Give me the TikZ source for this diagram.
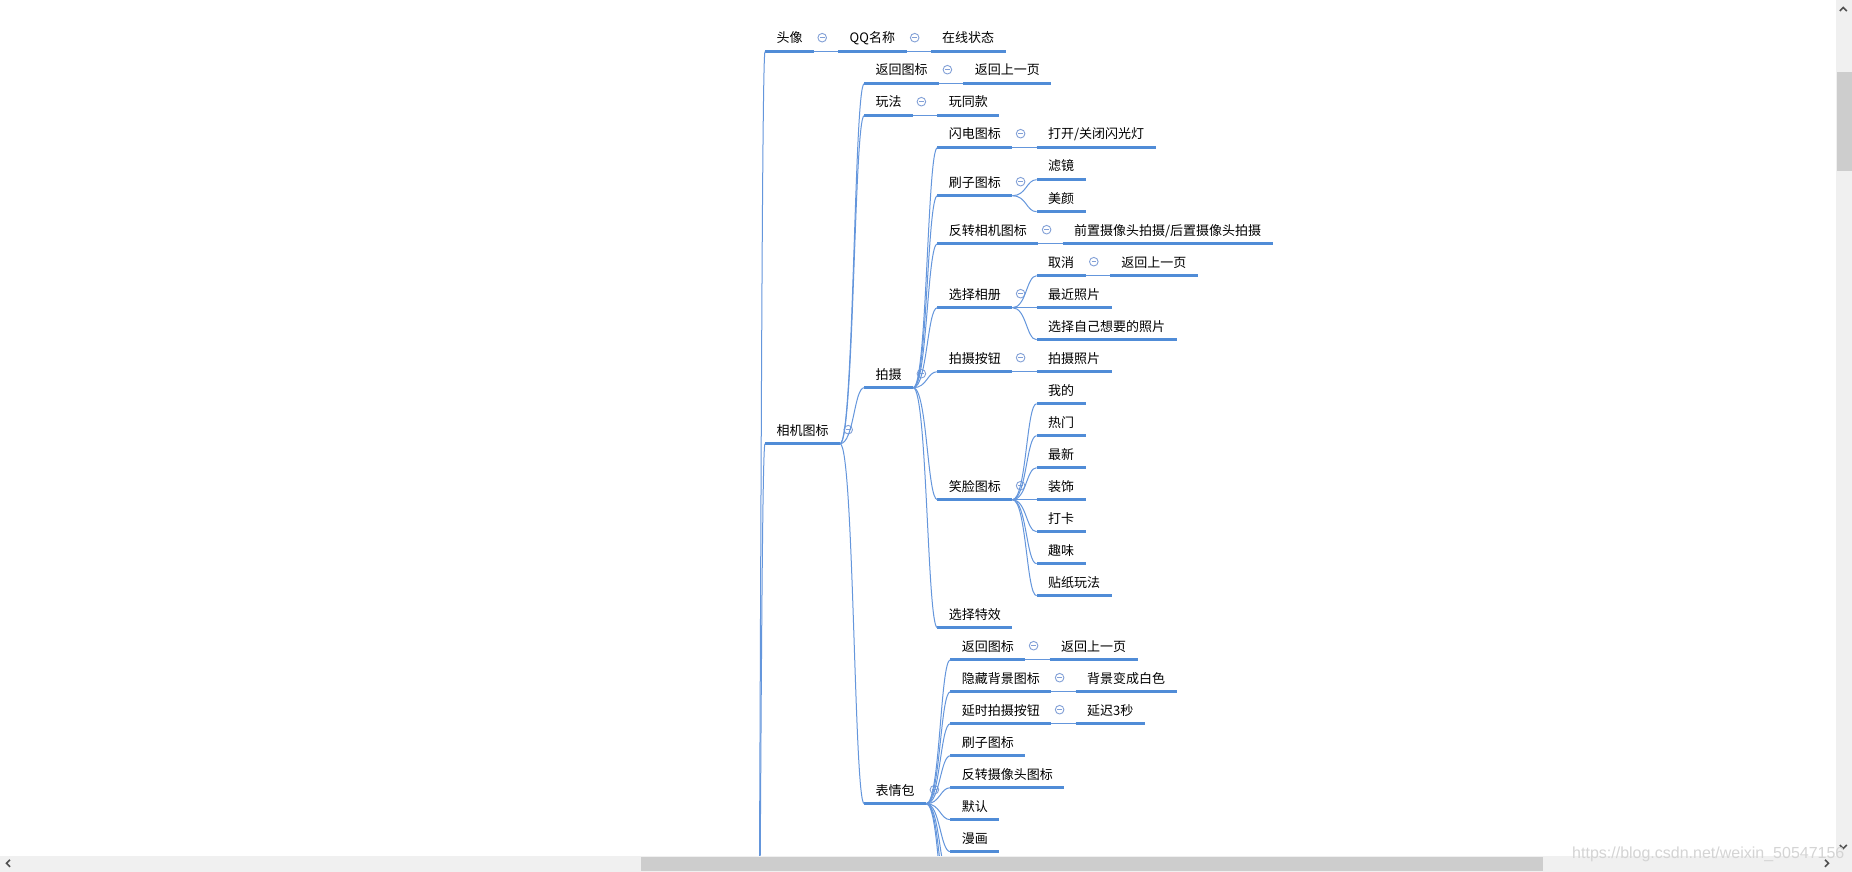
\documentclass[tikz,border=0pt]{standalone}
\usepackage{fontspec}
\newfontfamily\cjk{Noto Sans CJK SC}
\newfontfamily\wmfont{Liberation Sans}
\definecolor{ulc}{RGB}{80,140,215}
\definecolor{lnc}{RGB}{100,150,220}
\definecolor{btnc}{RGB}{130,160,215}
\definecolor{trackc}{RGB}{240,240,240}
\definecolor{thumbc}{RGB}{205,205,205}
\definecolor{arrc}{RGB}{80,80,80}
\definecolor{wmc}{RGB}{212,212,212}
\tikzset{
  ul/.style={draw=ulc, line width=2.8pt},
  conn/.style={draw=lnc, line width=1pt},
  mm/.style={anchor=south west, inner xsep=11.3pt, inner ysep=0pt,
    text height=10pt, text depth=8.5pt,
    font=\cjk\fontsize{13pt}{15pt}\selectfont, text=black,
    append after command={(\tikzlastnode.south west) edge[ul] (\tikzlastnode.south east)}},
  btn/.style={circle, draw=btnc, fill=white, line width=0.9pt, minimum size=8.6pt, inner sep=0pt,
    path picture={\draw[btnc, line width=0.9pt] ([xshift=-2.3pt]path picture bounding box.center) -- ([xshift=2.3pt]path picture bounding box.center);}},
  arrowglyph/.style={draw=arrc, line width=1.6pt},
}
\newcommand\mmbtn[1]{\node[btn] (#1-b) at ([xshift=8.2pt,yshift=14pt]#1.south east) {};}
\newcommand\mmlink[2]{\draw[conn] (#1.south east) .. controls ([xshift=14pt]#1.south east) and ([xshift=-10.2pt]#2.south west) .. (#2.south west);}
\newcommand\mmkid[4]{%
  \path ([xshift=24.2pt]#1.south east) coordinate (#2-x);
  \node[mm] (#2) at (#2-x |- 0,#3) {#4};
  \mmlink{#1}{#2}}
\newcommand\mmhid[3]{%
  \path ([xshift=24.2pt]#1.south east) coordinate (#2-x);
  \coordinate (#2) at (#2-x |- 0,#3);
  \draw[conn] (#1.south east) .. controls ([xshift=14pt]#1.south east) and ([xshift=-10.2pt]#2) .. (#2);}
\begin{document}
\begin{tikzpicture}[x=1pt,y=-1pt]
\useasboundingbox (0,0) rectangle (1852,872);
\fill[white] (0,0) rectangle (1852,872);
\begin{scope}
\clip (0,0) rectangle (1836,855.7);
\coordinate (rootp) at (756,1181);
\node[mm] (tx) at (765,51.7) {头像};
\node[mm] (xj) at (765,443.7) {相机图标};
\draw[conn] (rootp) .. controls ([xshift=4.5pt]rootp) and ([xshift=-4.5pt]tx.south west) .. (tx.south west);
\draw[conn] (rootp) .. controls ([xshift=4.5pt]rootp) and ([xshift=-4.5pt]xj.south west) .. (xj.south west);
\mmkid{tx}{qq}{51.7}{QQ名称}
\mmkid{qq}{zx}{51.7}{在线状态}
\mmbtn{tx} \mmbtn{qq} \mmbtn{xj}
\mmkid{xj}{fh}{83.7}{返回图标} \mmbtn{fh}
\mmkid{fh}{fhs}{83.7}{返回上一页}
\mmkid{xj}{wf}{115.7}{玩法} \mmbtn{wf}
\mmkid{wf}{wtk}{115.7}{玩同款}
\mmkid{xj}{ps}{387.7}{拍摄} \mmbtn{ps}
\mmkid{ps}{sd}{147.7}{闪电图标} \mmbtn{sd}
\mmkid{sd}{sdk}{147.7}{打开/关闭闪光灯}
\mmkid{ps}{sz}{195.7}{刷子图标} \mmbtn{sz}
\mmkid{sz}{lj}{179.7}{滤镜}
\mmkid{sz}{my}{211.7}{美颜}
\mmkid{ps}{fz}{243.7}{反转相机图标} \mmbtn{fz}
\mmkid{fz}{qz}{243.7}{前置摄像头拍摄/后置摄像头拍摄}
\mmkid{ps}{xc}{307.7}{选择相册} \mmbtn{xc}
\mmkid{xc}{qx}{275.7}{取消} \mmbtn{qx}
\mmkid{qx}{qxf}{275.7}{返回上一页}
\mmkid{xc}{zj}{307.7}{最近照片}
\mmkid{xc}{zz}{339.7}{选择自己想要的照片}
\mmkid{ps}{pa}{371.7}{拍摄按钮} \mmbtn{pa}
\mmkid{pa}{pz}{371.7}{拍摄照片}
\mmkid{ps}{xl}{499.7}{笑脸图标} \mmbtn{xl}
\mmkid{xl}{wd}{403.7}{我的}
\mmkid{xl}{rm}{435.7}{热门}
\mmkid{xl}{zxn}{467.7}{最新}
\mmkid{xl}{zs}{499.7}{装饰}
\mmkid{xl}{dk}{531.7}{打卡}
\mmkid{xl}{qw}{563.7}{趣味}
\mmkid{xl}{tz}{595.7}{贴纸玩法}
\mmkid{ps}{tx2}{627.7}{选择特效}
\mmkid{xj}{bq}{803.7}{表情包} \mmbtn{bq}
\mmkid{bq}{bfh}{659.7}{返回图标} \mmbtn{bfh}
\mmkid{bfh}{bfhs}{659.7}{返回上一页}
\mmkid{bq}{yc}{691.7}{隐藏背景图标} \mmbtn{yc}
\mmkid{yc}{bj}{691.7}{背景变成白色}
\mmkid{bq}{ys}{723.7}{延时拍摄按钮} \mmbtn{ys}
\mmkid{ys}{yc3}{723.7}{延迟3秒}
\mmkid{bq}{bsz}{755.7}{刷子图标}
\mmkid{bq}{bfz}{787.7}{反转摄像头图标}
\mmkid{bq}{mr}{819.7}{默认}
\mmkid{bq}{mh}{851.7}{漫画}
\mmhid{bq}{h1}{883.7}
\mmhid{bq}{h2}{915.7}
\mmhid{bq}{h3}{947.7}
\end{scope}
% scrollbars
\fill[trackc] (1836,0) rectangle (1852,872);
\fill[trackc] (0,855.7) rectangle (1852,872);
\fill[thumbc] (1836.5,72) rectangle (1851.5,170.7);
\fill[thumbc] (641.3,856.5) rectangle (1542.7,871);
\draw[arrowglyph] (1839.8,11) -- (1843.3,7.5) -- (1846.8,11);
\draw[arrowglyph] (1839.8,845) -- (1843.3,848.5) -- (1846.8,845);
\draw[arrowglyph] (10,859.8) -- (6.5,863.3) -- (10,866.8);
\draw[arrowglyph] (1825,859.8) -- (1828.5,863.3) -- (1825,866.8);
\node[font=\wmfont\fontsize{16pt}{18pt}\selectfont, text=wmc, anchor=base west, inner sep=0pt] (wm) at (1572,858) {https://blog.csdn.net/weixin\_50547156};
\end{tikzpicture}
\end{document}
